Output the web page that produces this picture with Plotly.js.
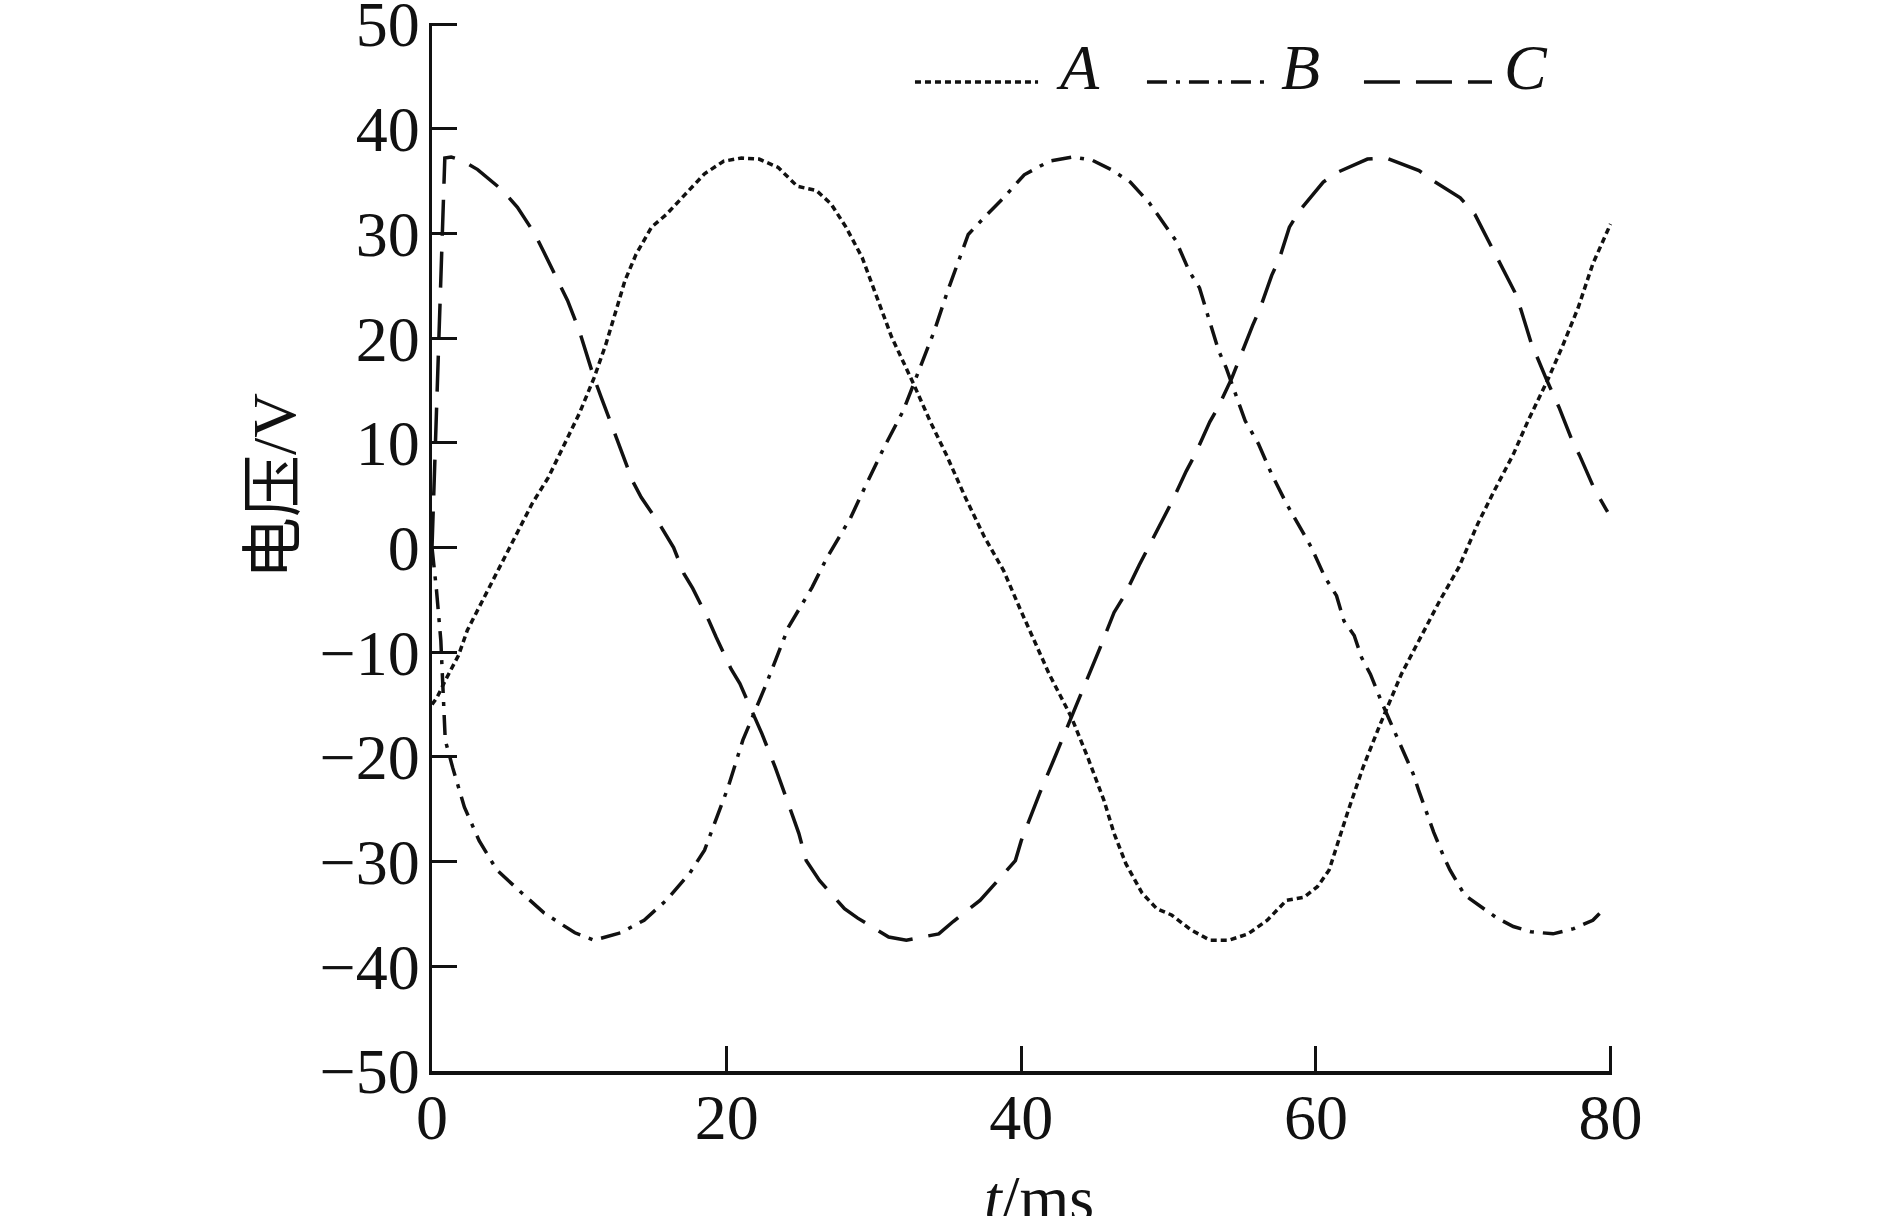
<!DOCTYPE html>
<html>
<head>
<meta charset="utf-8">
<script src="https://cdn.plot.ly/plotly-3.0.1.min.js"></script>
<style>
  html, body { margin: 0; padding: 0; background: #fff; }
  #chart { width: 1889px; height: 1216px; }
</style>
</head>
<body>
<div id="chart"></div>
<script>
// Phase voltages: time in ms, voltage in V
const tA = [0, 0.35, 0.9, 1.8, 2.4, 3.2, 4.0, 4.9, 5.8, 6.8, 7.9, 8.9, 10.0, 11.0, 11.8, 12.55,
    13.1, 13.85, 14.9, 15.9, 17.2, 18.5, 19.8, 21.0, 22.2, 23.5, 24.8, 26.1, 27.1, 28.1, 29.2,
    30.2, 31.2, 32.7, 33.8, 34.9, 36.2, 37.5, 38.8, 39.9, 40.9, 41.9, 43.4, 44.5, 45.6, 46.3,
    47.1, 48.2, 49.2, 50.2, 51.5, 52.8, 54.1, 55.4, 56.7, 58.0, 59.2, 60.1, 60.9, 61.4, 62.2,
    63.2, 64.3, 65.8, 67.1, 68.4, 69.7, 71.0, 72.1, 73.4, 74.4, 75.7, 76.7, 77.8, 78.8, 80.0];
const vA = [-15, -14.3, -12.7, -10.3, -7.9, -5.7, -3.5, -0.9, 1.6, 4.2, 6.7, 9.6, 12.8, 16.2, 19.4, 22.9,
    25.5, 28, 30.6, 31.8, 33.7, 35.7, 36.9, 37.2, 37.1, 36.3, 34.5, 34.1, 32.8, 30.6, 27.7,
    23.9, 20.1, 15.6, 12.1, 8.9, 4.8, 1.0, -2.2, -5.8, -8.9, -12.1, -16.2, -20, -24.1, -27.3,
    -30.2, -33, -34.5, -35.1, -36.5, -37.5, -37.5, -36.9, -35.6, -33.7, -33.4, -32.4, -30.8, -28.6, -25.1,
    -21, -17.1, -12.1, -8.6, -5.1, -1.9, 2.3, 5.4, 8.9, 12.1, 15.9, 19.1, 22.9, 27.1, 30.9];

const tB = [0, 0.3, 0.6, 0.9, 1.4, 2.2, 3.2, 4.4, 6.1, 7.6, 9.7, 11.0, 12.8, 14.4, 15.9, 17.5,
    18.5, 19.2, 20.1, 21.1, 21.8, 22.7, 24.2, 25.8, 26.8, 28.4, 29.4, 30.7, 32.0, 32.7, 33.3,
    34.1, 35.0, 35.7, 36.4, 37.6, 38.8, 40.2, 41.9, 43.5, 44.8, 46.1, 47.4, 48.7, 49.7, 50.5,
    51.4, 52.1, 52.7, 53.4, 53.9, 54.4, 55.2, 56.1, 57.0, 58.0, 59.1, 59.7, 60.6, 61.4, 61.9,
    62.6, 63.1, 63.7, 64.5, 65.2, 65.9, 66.6, 67.0, 67.6, 68.0, 68.7, 69.1, 70.1, 70.9, 72.3,
    73.4, 74.6, 76.1, 77.5, 78.8, 79.5];
const vB = [0, -4, -8.9, -18.4, -21, -24.8, -28, -30.8, -33, -34.9, -36.8, -37.5, -36.8, -35.6, -33.7, -31.1,
    -28.9, -26.3, -22.9, -18.4, -16, -13, -7.6, -3.8, -1.0, 2.8, 5.8, 9.6, 13.1, 15.6, 17.8,
    20.7, 24.5, 27.1, 29.9, 31.7, 33.4, 35.6, 36.9, 37.3, 37, 36.1, 34.9, 32.9, 30.9, 29.3,
    26.4, 24.8, 22.0, 18.8, 17.2, 15.3, 12.1, 9.9, 7.0, 4.2, 1.4, 0, -2.8, -4.6, -7,
    -8.4, -10.5, -12.1, -14.9, -17.1, -19.5, -21.6, -23.3, -25.7, -27.2, -29.6, -30.8, -33.2, -34, -35.4,
    -36.2, -36.7, -36.9, -36.4, -35.6, -34.6];

const tC = [0, 0.35, 0.6, 0.87, 1.3, 2.0, 3.1, 4.8, 5.8, 7.0, 7.6, 8.65, 9.2, 10.0, 11.0, 11.5,
    12.3, 12.8, 13.6, 14.2, 15.5, 16.4, 17.1, 17.7, 18.8, 19.3, 20.3, 20.9, 21.9, 22.4, 23.3,
    23.7, 24.5, 24.9, 25.4, 26.3, 28.0, 28.9, 31.0, 32.2, 34.4, 35.4, 37.2, 38.1, 39.6, 40.0,
    40.8, 41.3, 42.2, 42.7, 43.4, 44.0, 45.0, 45.4, 46.3, 47.0, 48.0, 48.7, 49.6, 50.2, 51.2,
    51.8, 52.8, 53.4, 54.3, 54.8, 55.7, 56.2, 57.0, 57.5, 58.2, 58.9, 60.5, 61.4, 63.5, 64.8,
    67.0, 68.0, 69.8, 70.8, 71.8, 72.4, 73.5, 73.9, 74.6, 75.7, 76.5, 77.4, 77.9, 78.9, 79.8];
const vC = [0, 16, 27, 37.2, 37.3, 37.0, 36.1, 34.1, 32.5, 29.9, 28.2, 25.3, 23.6, 20.7, 16.2, 14.3,
    11.2, 9.4, 6.4, 4.8, 2.1, 0, -2.5, -3.9, -7, -8.6, -11.6, -13, -16.2, -17.8, -21,
    -22.5, -25.7, -27.3, -29.9, -31.8, -34.5, -35.4, -37.2, -37.5, -36.9, -35.7, -33.7, -32.3, -29.9, -28.0,
    -25.1, -23.3, -20.3, -18.6, -16.2, -14.1, -10.9, -9.4, -6.2, -4.6, -1.7, 0.2, 2.7, 4.3, 7.3,
    8.9, 12.0, 13.5, 16.2, 18.0, 21.2, 22.8, 26, 27.5, 30.6, 32.2, 34.9, 35.8, 37.1, 37.2,
    36, 35, 33.4, 31.8, 29, 27.4, 24.4, 22.8, 19.6, 15.9, 13.4, 10.2, 8.8, 5.6, 3.4];

const seriesNames = ['A', 'B', 'C'];
const xTicks = [0, 20, 40, 60, 80];
const yTicks = [-50, -40, -30, -20, -10, 0, 10, 20, 30, 40, 50];

const ink = '#111';
const serif = 'Liberation Serif, Times New Roman, serif';
const dashes = ['6px,4px', '20px,9px,4px,9px', '36px,16px'];
const lineW = 3.5;

const traces = [[tA, vA], [tB, vB], [tC, vC]].map(([x, y], i) => ({
    x: x,
    y: y,
    type: 'scatter',
    mode: 'lines',
    name: seriesNames[i],
    line: { color: ink, width: lineW, dash: dashes[i] },
    cliponaxis: false,
    showlegend: false
}));

// hand-made legend: long line samples like the original figure
const legendLines = [[0.4093, 0.5136], [0.6059, 0.7051], [0.7898, 0.8983]];
const legendTextX = [0.5475, 0.7356, 0.9271];
const legendY = 0.9437;

const shapes = legendLines.map((seg, i) => ({
    type: 'line', xref: 'paper', yref: 'paper',
    x0: seg[0], x1: seg[1], y0: legendY, y1: legendY,
    line: { color: ink, width: lineW, dash: dashes[i] }
}));

const annotations = seriesNames.map((n, i) => ({
    xref: 'paper', yref: 'paper',
    x: legendTextX[i], y: 0.958,
    text: '<i>' + n + '</i>',
    showarrow: false,
    xanchor: 'center', yanchor: 'middle',
    font: { family: serif, size: 64, color: ink }
}));

annotations.push({
    xref: 'paper', yref: 'paper',
    x: -0.134, y: 0.558,
    text: '电压/V',
    textangle: -90,
    showarrow: false,
    xanchor: 'center', yanchor: 'middle',
    font: { family: 'Liberation Serif, Noto Sans CJK SC, serif', size: 62, color: ink }
});

annotations.push({
    xref: 'paper', yref: 'paper',
    x: 0.514, y: -0.122,
    text: '<i>t</i>/ms',
    showarrow: false,
    xanchor: 'center', yanchor: 'middle',
    font: { family: serif, size: 64, color: ink }
});

const axisBase = {
    showgrid: false,
    zeroline: false,
    showline: true,
    linecolor: ink,
    linewidth: 3.5,
    ticks: 'inside',
    tickcolor: ink,
    tickwidth: 3,
    ticklen: 25,
    ticklabeloverflow: 'allow',
    tickfont: { family: serif, size: 64, color: ink },
    fixedrange: true
};

const layout = {
    width: 1889,
    height: 1216,
    margin: { l: 432, r: 277, t: 23, b: 145 },
    paper_bgcolor: '#fff',
    plot_bgcolor: '#fff',
    xaxis: Object.assign({}, axisBase, {
        range: [0, 80.1],
        tickmode: 'array',
        tickvals: xTicks,
        ticklabelstandoff: -12
    }),
    yaxis: Object.assign({}, axisBase, {
        range: [-50, 50.1],
        tickmode: 'array',
        tickvals: yTicks,
        ticklabelstandoff: -4
    }),
    shapes: shapes,
    annotations: annotations
};

Plotly.newPlot('chart', traces, layout, { displayModeBar: false, staticPlot: true });
</script>
</body>
</html>
